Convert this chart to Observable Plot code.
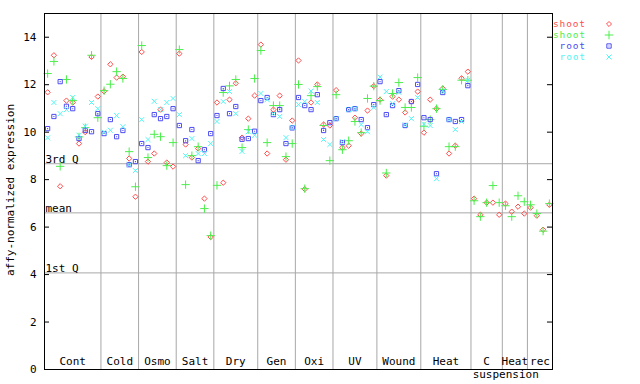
<!DOCTYPE html>
<html>
<head>
<meta charset="utf-8">
<script src="https://cdn.jsdelivr.net/npm/d3@7"></script>
<script src="https://cdn.jsdelivr.net/npm/@observablehq/plot@0.6"></script>
<style>
  html, body { margin: 0; padding: 0; background: white; }
  #chart { width: 640px; height: 384px; }
</style>
</head>
<body>
<div id="chart"></div>
<script>
// ---- data ----
const groupNames = ["Cont","Cold","Osmo","Salt","Dry","Gen","Oxi","UV","Wound","Heat","C","Heat","rec"];
const groupSizes = [9,6,6,6,7,6,6,7,7,8,5,4,4];
const subLabel = "suspension";
const subLabelGroups = [10, 12]; // first and last group index it sits under

const seriesNames = ["shoot","shoot","root","root"];
const seriesColors = ["#ff4c4c","#4cee4c","#4c4cf4","#55f4f4"];
const seriesSymbols = ["diamond2","plus","square2","times"];

const shootRed = [11.68,13.24,7.72,11.33,11.25,9.52,10.0,13.17,11.5,
  11.72,12.86,12.30,12.34,8.89,7.28,
  13.38,8.76,9.10,10.95,8.72,8.55,
  13.31,9.48,8.93,9.31,7.20,5.58,
  11.25,7.87,11.37,12.06,9.77,10.57,11.54,
  13.69,9.10,10.95,11.54,8.84,10.49,
  13.02,7.60,11.25,12.01,10.32,10.28,
  11.77,9.35,9.43,10.61,9.94,10.91,11.94,
  11.37,8.17,11.50,11.37,10.83,11.29,11.71,
  9.98,11.37,10.99,11.84,9.10,9.43,12.27,12.55,
  7.20,6.52,7.03,7.03,6.52,
  6.99,6.65,6.86,6.57,
  6.82,6.48,5.89,6.94];
const shootGreen = [12.47,12.98,8.56,12.22,11.33,9.8,10.19,13.24,10.61,
  11.75,12.02,12.55,12.26,9.18,7.70,
  13.65,8.93,9.91,9.81,8.59,9.56,
  13.48,7.79,9.01,9.39,6.78,5.64,
  7.76,11.67,11.95,12.22,9.35,10.11,12.26,
  13.44,9.56,11.12,11.12,8.97,9.52,
  12.01,7.62,11.54,11.92,10.28,8.80,
  11.58,9.26,9.64,10.45,9.98,11.42,11.94,
  11.33,8.28,11.63,12.09,11.04,11.04,12.30,
  10.25,10.53,10.99,11.80,9.39,9.39,12.19,12.19,
  7.11,6.44,7.03,7.75,7.03,
  6.90,6.44,7.32,7.07,
  6.94,6.57,5.83,6.99];
const rootBlue = [10.15,10.66,12.13,11.09,10.99,9.73,10.08,10.02,10.78,
  9.94,10.53,9.81,10.07,8.63,8.76,
  9.52,9.35,10.74,10.57,10.66,10.99,
  10.28,9.64,10.11,8.80,9.26,9.94,
  10.70,11.84,10.78,11.08,9.70,9.73,10.04,
  11.33,11.46,10.74,10.95,9.52,10.18,
  11.46,11.12,10.95,11.58,10.07,10.40,
  10.57,9.56,10.95,10.99,10.53,10.19,11.16,
  12.13,10.74,11.12,11.75,10.28,11.29,12.01,
  10.61,10.53,8.25,11.67,10.53,10.45,10.53,11.96];
const rootCyan = [9.76,11.25,10.78,10.95,11.46,9.87,10.25,11.25,10.99,
  10.0,10.08,10.70,10.23,8.63,8.38,
  10.53,9.69,11.30,10.95,11.25,11.42,
  10.74,9.01,9.73,9.10,9.10,9.52,
  10.45,11.29,11.71,10.78,9.19,10.02,9.87,
  11.63,11.37,10.78,10.66,9.77,10.2,
  11.16,11.29,11.73,11.25,9.69,9.48,
  10.57,9.6,10.95,10.99,10.32,10.02,11.04,
  12.32,11.71,11.2,11.68,10.3,10.57,11.46,
  10.33,10.28,8.04,11.74,10.53,10.11,10.45,12.19];

const refNames = ["3rd Q","mean","1st Q"];
const refValues = [8.67, 6.60, 4.07];
const yTicks = [0,2,4,6,8,10,12,14];
const yLabel = "affy-normalized expression";

// ---- derived tables ----
const seriesValues = [shootRed, shootGreen, rootBlue, rootCyan];
const nSlots = d3.sum(groupSizes);
const bounds = d3.cumsum(groupSizes);             // end of each group
const starts = bounds.map((b, i) => b - groupSizes[i]);
const centers = starts.map((s, i) => (s + bounds[i]) / 2);
const gridX = Array.from(bounds).slice(0, -1);

const pts = [];
seriesValues.forEach((arr, s) => arr.forEach((v, i) => {
  if (v != null) pts.push({slot: i + 0.5, value: v, s});
}));
const bySeries = s => pts.filter(d => d.s === s);

const font = "DejaVu Sans Mono";
const tickLen = 0.8; // inward tick length in slot units (~5px)

const plot = Plot.plot({
  width: 640,
  height: 384,
  marginLeft: 44,
  marginRight: 88,
  marginTop: 13,
  marginBottom: 15,
  style: {fontFamily: font, fontSize: "11px", background: "white", color: "black"},
  x: {domain: [0, nSlots], axis: null},
  y: {domain: [0, 15], axis: null},
  marks: [
    Plot.ruleX(gridX, {stroke: "#a8a8a8", strokeWidth: 1}),
    Plot.ruleY(refValues, {stroke: "#a8a8a8", strokeWidth: 1}),
    Plot.text(refNames, {x: 0, y: (d, i) => refValues[i], text: d => d, textAnchor: "start", lineAnchor: "bottom", dx: 1, dy: -1, fill: "black"}),
    Plot.ruleY(yTicks, {x1: 0, x2: tickLen, stroke: "black"}),
    Plot.ruleY(yTicks, {x1: nSlots - tickLen, x2: nSlots, stroke: "black"}),
    Plot.axisY({ticks: yTicks, tickSize: 0, tickPadding: 8, tickFormat: d => String(d), label: null, fontSize: 11}),
    Plot.text(groupNames, {x: (d, i) => centers[i], frameAnchor: "bottom", dy: -5, text: d => d, fill: "black"}),
    Plot.text([subLabel], {x: (starts[subLabelGroups[0]] + bounds[subLabelGroups[1]]) / 2, frameAnchor: "bottom", dy: 8, dx: -6, text: d => d, fill: "black"}),
    ...[0, 1, 2, 3].map(s => Plot.dot(bySeries(s), {
      x: "slot", y: "value", symbol: () => seriesSymbols[s],
      stroke: seriesColors[s], fill: "none", strokeWidth: 1,
      r: [2.4, 2.8, 2.7, 2.4][s]
    })),
    Plot.dot(bySeries(2), {x: "slot", y: "value", symbol: "square", r: 0.6, fill: seriesColors[2]}),
    Plot.frame({stroke: "black", strokeWidth: 1})
  ]
});

document.getElementById("chart").appendChild(plot);

// legend + y label
const svg = d3.select(plot);
const leg = svg.append("g").attr("font-family", font).attr("font-size", 9.5).attr("letter-spacing", 0.9);
seriesNames.forEach((name, i) => {
  const y = 24 + i * 11;
  leg.append("text").attr("x", 586).attr("y", y).attr("text-anchor", "end")
    .attr("dominant-baseline", "middle").attr("fill", seriesColors[i]).text(name);
  const sizes = [16, 26, 24, 18];
  const syms = [d3.symbolDiamond2, d3.symbolPlus, d3.symbolSquare2, d3.symbolTimes];
  leg.append("path").attr("transform", `translate(609,${y})`)
    .attr("d", d3.symbol(syms[i], sizes[i])()).attr("fill", "none")
    .attr("stroke", seriesColors[i]);
  if (i === 2) leg.append("rect").attr("x", 608.5).attr("y", y - 0.5).attr("width", 1).attr("height", 1).attr("fill", seriesColors[i]);
});
svg.append("text").attr("transform", "translate(11,190) rotate(-90)")
  .attr("text-anchor", "middle").attr("dominant-baseline", "middle")
  .attr("font-family", font).attr("font-size", 11).attr("fill", "black").text(yLabel);
</script>
</body>
</html>
